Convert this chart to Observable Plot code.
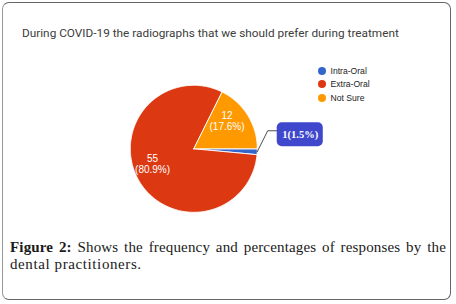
<!DOCTYPE html>
<html>
<head>
<meta charset="utf-8">
<script src="https://cdn.jsdelivr.net/npm/d3@7"></script>
<script src="https://cdn.jsdelivr.net/npm/@observablehq/plot@0.6"></script>
<style>
  html, body { margin: 0; padding: 0; background: #fff; }
  #page { position: relative; width: 456px; height: 304px; overflow: hidden; }
  #frame { position: absolute; left: 2px; top: 2px; width: 447px; height: 296px;
           border: 1px solid #666; border-left-color: #999; border-radius: 7px; box-sizing: content-box; }
  #title { position: absolute; left: 22px; top: 26px; font-family: Roboto, "Noto Sans", sans-serif;
           font-size: 11.8px; color: #3c3c3c; white-space: nowrap; }
  #legend { position: absolute; left: 318px; top: 65px; font-family: "Liberation Sans", Arial, sans-serif;
            font-size: 8.6px; color: #222; }
  #legend .item { position: relative; height: 13.3px; line-height: 12px; padding-left: 12.5px; white-space: nowrap; }
  #legend .sw { position: absolute; left: 0; top: 2px; width: 8px; height: 8px; border-radius: 50%; }
  #chart { position: absolute; left: 0; top: 0; }
  #caption { position: absolute; left: 10px; top: 239px; width: 436px; font-family: "Liberation Serif", "Times New Roman", serif;
             font-size: 15px; color: #1a1a1a; line-height: 17px; }
  #caption .l1 { text-align: justify; text-align-last: justify; white-space: nowrap; letter-spacing: 0.15px; }
  #caption .l2 { letter-spacing: 0.6px; }
  #caption b { font-weight: bold; }
</style>
</head>
<body>
<div id="page">
  <div id="frame"></div>
  <div id="chart"></div>
  <div id="title"></div>
  <div id="legend"></div>
  <div id="caption"></div>
</div>
<script>
const titleText = "During COVID-19 the radiographs that we should prefer during treatment";
const categories = ["Intra-Oral", "Extra-Oral", "Not Sure"];
const counts = [1, 55, 12];
const percentLabels = ["1.5%", "80.9%", "17.6%"];
const colors = ["#3366cc", "#dc3912", "#ff9900"];
const captionLead = "Figure 2:";
const captionLine1 = " Shows the frequency and percentages of responses by the";
const captionLine2 = "dental practitioners.";

// Title, legend, caption
document.getElementById("title").textContent = titleText;
const legend = document.getElementById("legend");
categories.forEach((c, i) => {
  const it = document.createElement("div");
  it.className = "item";
  const sw = document.createElement("span");
  sw.className = "sw"; sw.style.background = colors[i];
  it.appendChild(sw);
  it.appendChild(document.createTextNode(c));
  legend.appendChild(it);
});
const cap = document.getElementById("caption");
const l1 = document.createElement("div"); l1.className = "l1";
const b = document.createElement("b"); b.textContent = captionLead;
l1.appendChild(b); l1.appendChild(document.createTextNode(captionLine1));
const l2 = document.createElement("div"); l2.className = "l2"; l2.textContent = captionLine2;
cap.appendChild(l1); cap.appendChild(l2);

// Pie geometry (angles clockwise from 12 o'clock, starting at 3 o'clock)
const arcs = d3.pie().sort(null).startAngle(Math.PI / 2).endAngle(Math.PI / 2 + 2 * Math.PI)(counts);
const slices = arcs.map((a, i) => ({cat: categories[i], count: counts[i], pct: percentLabels[i], a0: a.startAngle, a1: a.endAngle, mid: (a.startAngle + a.endAngle) / 2}));

const poly = [];
for (const s of slices) {
  poly.push({cat: s.cat, x: 0, y: 0});
  const n = Math.max(2, Math.ceil((s.a1 - s.a0) / (Math.PI / 180)));
  for (let k = 0; k <= n; k++) {
    const a = s.a0 + (s.a1 - s.a0) * k / n;
    poly.push({cat: s.cat, x: Math.sin(a), y: Math.cos(a)});
  }
  poly.push({cat: s.cat, x: 0, y: 0});
}

const inside = slices.filter(s => s.count / d3.sum(counts) > 0.05);
const outside = slices.filter(s => s.count / d3.sum(counts) <= 0.05);

// Callout for small slice
const callLines = [], callBoxes = [];
for (const s of outside) {
  const sx = Math.sin(s.mid), sy = Math.cos(s.mid);
  const ex = sx + 0.165, ey = sy + 0.33;
  const tx = ex + 0.15;
  callLines.push({cat: s.cat, x: sx, y: sy}, {cat: s.cat, x: ex, y: ey}, {cat: s.cat, x: tx, y: ey});
  callBoxes.push({cat: s.cat, x1: tx, x2: tx + 0.725, y1: ey - 0.25, y2: ey + 0.125, label: `${s.count}(${s.pct})`});
}

const cx = 193.3, cy = 148.3, r = 63.5;
const chart = Plot.plot({
  width: 456, height: 220,
  margin: 0,
  style: {background: "transparent", overflow: "visible"},
  x: {domain: [-1, 1], range: [cx - r, cx + r], axis: null},
  y: {domain: [-1, 1], range: [cy + r, cy - r], axis: null},
  color: {domain: categories, range: colors},
  marks: [
    Plot.line(poly, {x: "x", y: "y", z: "cat", fill: "cat", stroke: "white", strokeWidth: 0.9, strokeLinejoin: "round", curve: "linear"}),
    Plot.text(inside, {
      x: d => 0.68 * Math.sin(d.mid), y: d => 0.68 * Math.cos(d.mid),
      text: d => `${d.count}\n(${d.pct})`, dx: -3.5, dy: -5.5,
      fill: "white", fontSize: 10, lineHeight: 1.1, fontFamily: "Liberation Sans, Arial, sans-serif"
    }),
    Plot.line(callLines, {x: "x", y: "y", z: "cat", stroke: "#222", strokeWidth: 0.8}),
    Plot.rect(callBoxes, {x1: "x1", x2: "x2", y1: "y1", y2: "y2", fill: "#3f48cc", rx: 5}),
    Plot.text(callBoxes, {x: d => (d.x1 + d.x2) / 2, y: d => (d.y1 + d.y2) / 2, text: "label", fill: "white",
      fontSize: 10.5, fontWeight: "bold", fontFamily: "Liberation Serif, Times New Roman, serif"})
  ]
});
document.getElementById("chart").appendChild(chart);
</script>
</body>
</html>
